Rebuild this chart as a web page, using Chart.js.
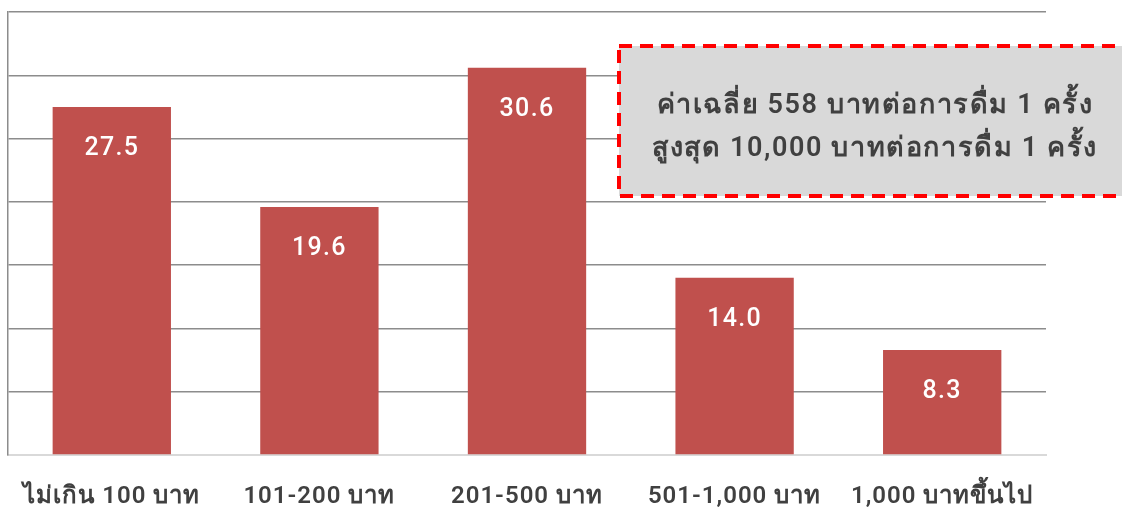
<!DOCTYPE html>
<html><head><meta charset="utf-8">
<script src="https://cdn.jsdelivr.net/npm/chart.js@4"></script>
<style>html,body{margin:0;padding:0;background:#fff}#wrap{width:1122px;height:508px}</style>
</head><body><div id="wrap"><canvas id="c" width="1122" height="508"></canvas></div>
<script>
const categories = ["ไม่เกิน 100 บาท","101-200 บาท","201-500 บาท","501-1,000 บาท","1,000 บาทขึ้นไป"];
const values = [27.5, 19.6, 30.6, 14.0, 8.3];
const noteLines = ["ค่าเฉลี่ย 558 บาทต่อการดื่ม 1 ครั้ง","สูงสุด 10,000 บาทต่อการดื่ม 1 ครั้ง"];
const FONT = "Roboto, 'Liberation Sans', 'Noto Sans', sans-serif";

const labelPlugin = {
  id: 'vals',
  afterDatasetsDraw(chart){
    const ctx = chart.ctx;
    const meta = chart.getDatasetMeta(0);
    ctx.save();
    ctx.fillStyle = '#ffffff';
    ctx.font = '500 25px ' + FONT;
    ctx.letterSpacing = '1.3px';
    ctx.textAlign = 'center';
    ctx.textBaseline = 'middle';
    meta.data.forEach((bar,i)=>{
      ctx.fillText(values[i].toFixed(1), bar.x, bar.y + 42);
    });
    ctx.restore();
  }
};
const xLabelPlugin = {
  id: 'xlabels',
  afterDraw(chart){
    const ctx = chart.ctx, sx = chart.scales.x;
    ctx.save();
    ctx.fillStyle = '#404040';
    ctx.font = '600 24px ' + FONT;
    ctx.letterSpacing = '1px';
    ctx.textAlign = 'center';
    ctx.textBaseline = 'middle';
    categories.forEach((c,i)=>{
      ctx.fillText(c, sx.getPixelForTick(i), sx.top + 42);
    });
    ctx.restore();
  }
};
const notePlugin = {
  id: 'note',
  afterDraw(chart){
    const ctx = chart.ctx;
    ctx.save();
    const x=619, y=46, w=520, h=150;
    ctx.fillStyle = '#d9d9d9';
    ctx.fillRect(x,y,w,h);
    ctx.strokeStyle = '#ff0000';
    ctx.lineWidth = 4;
    ctx.setLineDash([13,8]);
    ctx.strokeRect(x,y,w,h);
    ctx.setLineDash([]);
    ctx.fillStyle = '#404040';
    ctx.font = '600 27px ' + FONT;
    ctx.letterSpacing = '1.6px';
    ctx.textAlign = 'center';
    ctx.textBaseline = 'middle';
    ctx.fillText(noteLines[0], 875, 106);
    ctx.fillText(noteLines[1], 875, 149);
    ctx.restore();
  }
};

new Chart(document.getElementById('c'), {
  type: 'bar',
  data: { labels: categories, datasets: [{ data: values, backgroundColor: '#c0504d', borderWidth: 0, categoryPercentage: 1, barPercentage: 0.57 }] },
  options: {
    responsive: false, animation: false, devicePixelRatio: 1,
    layout: { padding: { left: 8, right: 76, top: 12, bottom: 0 } },
    plugins: { legend: { display: false }, tooltip: { enabled: false } },
    scales: {
      x: {
        grid: { display: false, drawTicks: false },
        border: { display: true, color: '#d9d9d9', width: 2 },
        ticks: { display: false },
        afterFit(s){ s.height = 53; }
      },
      y: {
        min: 0, max: 35,
        ticks: { display: false, stepSize: 5 },
        grid: { color: '#8c8c8c', lineWidth: 1.5, drawTicks: false },
        border: { display: true, color: '#8c8c8c', width: 1.5 }
      }
    }
  },
  plugins: [labelPlugin, xLabelPlugin, notePlugin]
});
</script></body></html>
